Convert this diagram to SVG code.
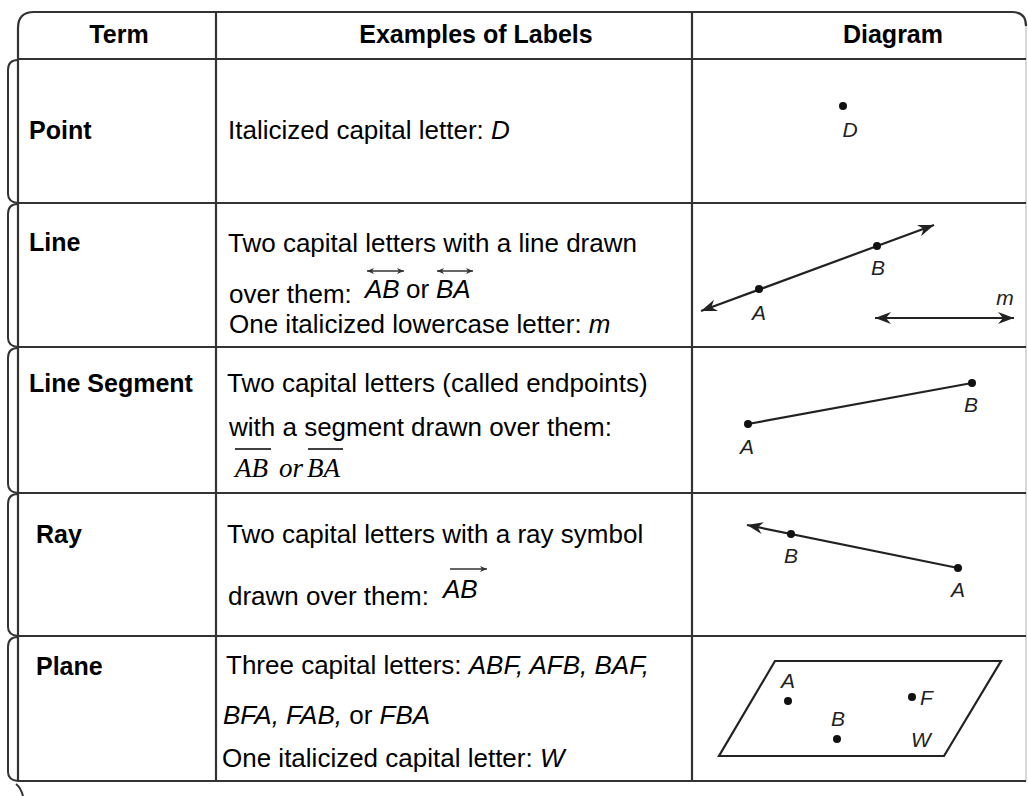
<svg xmlns="http://www.w3.org/2000/svg" width="1028" height="796" viewBox="0 0 1028 796">
<defs>
<style>
.grid{stroke:#333;stroke-width:2.2;fill:none}
.brk{stroke:#333;stroke-width:2;fill:none}
.hd{font-family:"Liberation Sans",Arial,sans-serif;font-weight:bold;font-size:25px;fill:#000}
.tx{font-family:"Liberation Sans",Arial,sans-serif;font-size:26px;fill:#000}
.it{font-style:italic}
.lb{font-family:"Liberation Sans",Arial,sans-serif;font-style:italic;font-size:21px;fill:#222}
.ser{font-family:"Liberation Serif","Times New Roman",serif;font-style:italic;font-size:27px;fill:#000}
.geo{stroke:#222;stroke-width:2.2;fill:none}
.dot{fill:#111}
</style>
<marker id="ah" viewBox="-17 -7 18 14" refX="0" refY="0" markerWidth="18" markerHeight="14" markerUnits="userSpaceOnUse" orient="auto-start-reverse">
<path d="M0,0 L-16,-6 L-11,0 L-16,6 Z" fill="#222"/>
</marker>
<marker id="sah" viewBox="-8 -4 9 8" refX="0" refY="0" markerWidth="9" markerHeight="8" markerUnits="userSpaceOnUse" orient="auto-start-reverse">
<path d="M0,0 L-7,-3 L-5,0 L-7,3 Z" fill="#333"/>
</marker>
</defs>
<rect width="1028" height="796" fill="#fff"/>

<g id="table">
<path class="grid" d="M18,781 L18,28 Q18,12 34,12 L1012,12 Q1026,12 1026,26"/>
<line x1="1026" y1="26" x2="1026" y2="781" stroke="#ccc" stroke-width="1.5"/>
<line class="grid" x1="18" y1="59" x2="1026" y2="59"/>
<line class="grid" x1="18" y1="203" x2="1026" y2="203"/>
<line class="grid" x1="18" y1="347" x2="1026" y2="347"/>
<line class="grid" x1="18" y1="493" x2="1026" y2="493"/>
<line class="grid" x1="18" y1="636" x2="1026" y2="636"/>
<line class="grid" x1="18" y1="781" x2="1026" y2="781"/>
<line class="grid" x1="216" y1="12" x2="216" y2="781"/>
<line class="grid" x1="692" y1="12" x2="692" y2="781"/>
<path class="brk" d="M18,60 Q8,60 8,70 L8,194 Q8,202 18,203"/>
<path class="brk" d="M18,204 Q8,204 8,214 L8,338 Q8,346 18,347"/>
<path class="brk" d="M18,348 Q8,348 8,358 L8,484 Q8,492 18,493"/>
<path class="brk" d="M18,494 Q8,494 8,504 L8,627 Q8,635 18,636"/>
<path class="brk" d="M18,637 Q8,637 8,647 L8,772 Q8,780 18,781"/>
<path class="brk" d="M16,784 Q21,788 23,796"/>
</g>

<g id="header">
<text class="hd" x="119" y="43" text-anchor="middle">Term</text>
<text class="hd" x="476" y="43" text-anchor="middle">Examples of Labels</text>
<text class="hd" x="893" y="43" text-anchor="middle">Diagram</text>
</g>

<g id="row-point">
<text class="hd" x="29" y="139">Point</text>
<text class="tx" x="228" y="139">Italicized capital letter: <tspan class="it">D</tspan></text>
<circle class="dot" cx="843" cy="106" r="4"/>
<text class="lb" x="850" y="137" text-anchor="middle">D</text>
</g>

<g id="row-line">
<text class="hd" x="29" y="251">Line</text>
<text class="tx" x="228" y="252">Two capital letters with a line drawn</text>
<text class="tx" x="229" y="303">over them:</text>
<text class="tx it" x="365" y="298" font-size="25" fill="#222">AB</text>
<text class="tx" x="406" y="298" font-size="25" fill="#222">or</text>
<text class="tx it" x="436" y="298" font-size="25" fill="#222">BA</text>
<line x1="367" y1="271" x2="404" y2="271" stroke="#333" stroke-width="1.5" marker-start="url(#sah)" marker-end="url(#sah)"/>
<line x1="437" y1="271" x2="473" y2="271" stroke="#333" stroke-width="1.5" marker-start="url(#sah)" marker-end="url(#sah)"/>
<text class="tx" x="229" y="333">One italicized lowercase letter: <tspan class="it">m</tspan></text>
</g>

<g id="row-segment">
<text class="hd" x="29" y="392">Line Segment</text>
<text class="tx" x="227" y="392">Two capital letters (called endpoints)</text>
<text class="tx" x="229" y="436">with a segment drawn over them:</text>
<text class="ser" x="235" y="477">AB</text>
<text class="ser" x="279" y="477">or</text>
<text class="ser" x="307" y="477">BA</text>
<line x1="235" y1="449" x2="271" y2="449" stroke="#000" stroke-width="1.5"/>
<line x1="308" y1="449" x2="343" y2="449" stroke="#000" stroke-width="1.5"/>
</g>

<g id="row-ray">
<text class="hd" x="36" y="543">Ray</text>
<text class="tx" x="227" y="543">Two capital letters with a ray symbol</text>
<text class="tx" x="228" y="605">drawn over them:</text>
<text class="tx it" x="443" y="598" font-size="28" fill="#222">AB</text>
<line x1="450" y1="569" x2="487" y2="569" stroke="#333" stroke-width="1.5" marker-end="url(#sah)"/>
</g>

<g id="row-plane">
<text class="hd" x="36" y="675">Plane</text>
<text class="tx" x="226" y="674">Three capital letters: <tspan class="it">ABF, AFB, BAF,</tspan></text>
<text class="tx" x="223" y="724"><tspan class="it">BFA, FAB,</tspan> or <tspan class="it">FBA</tspan></text>
<text class="tx" x="222" y="767">One italicized capital letter: <tspan class="it">W</tspan></text>
</g>

<g id="connectors">
<line class="geo" x1="701" y1="311" x2="934" y2="225" marker-start="url(#ah)" marker-end="url(#ah)"/>
<circle class="dot" cx="759" cy="289" r="4"/>
<circle class="dot" cx="877" cy="246" r="4"/>
<text class="lb" x="759" y="320" text-anchor="middle">A</text>
<text class="lb" x="878" y="275" text-anchor="middle">B</text>
<line class="geo" x1="875" y1="318" x2="1014" y2="318" marker-start="url(#ah)" marker-end="url(#ah)"/>
<text class="lb" x="1005" y="305" text-anchor="middle">m</text>

<line class="geo" x1="748" y1="424" x2="972" y2="383"/>
<circle class="dot" cx="748" cy="424" r="4"/>
<circle class="dot" cx="972" cy="383" r="4"/>
<text class="lb" x="747" y="454" text-anchor="middle">A</text>
<text class="lb" x="971" y="412" text-anchor="middle">B</text>

<line class="geo" x1="958" y1="568" x2="747" y2="525" marker-end="url(#ah)"/>
<circle class="dot" cx="791" cy="534" r="4"/>
<circle class="dot" cx="958" cy="568" r="4"/>
<text class="lb" x="791" y="563" text-anchor="middle">B</text>
<text class="lb" x="958" y="597" text-anchor="middle">A</text>

<polygon class="geo" points="775,661 1001,661 944,756 719,756"/>
<circle class="dot" cx="788" cy="701" r="4"/>
<circle class="dot" cx="912" cy="697" r="4"/>
<circle class="dot" cx="837" cy="739" r="4"/>
<text class="lb" x="788" y="688" text-anchor="middle">A</text>
<text class="lb" x="920" y="705">F</text>
<text class="lb" x="838" y="726" text-anchor="middle">B</text>
<text class="lb" x="911" y="747">W</text>
</g>
</svg>
